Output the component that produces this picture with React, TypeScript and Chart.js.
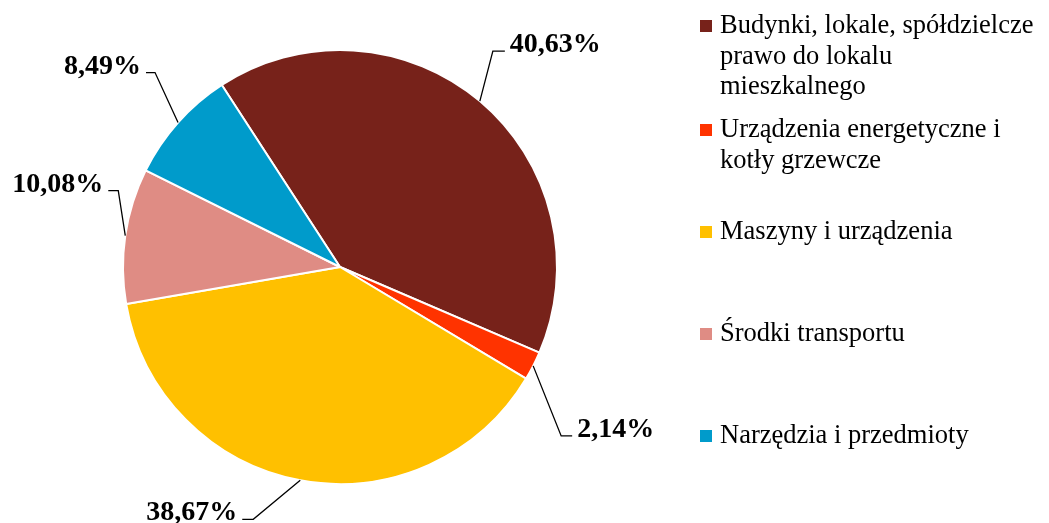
import React, { useEffect, useRef } from "react";
import { Chart, registerables } from "chart.js";
Chart.register(...registerables);

const categories: string[][] = [
  ["Budynki, lokale, spółdzielcze", "prawo do lokalu", "mieszkalnego"],
  ["Urządzenia energetyczne i", "kotły grzewcze"],
  ["Maszyny i urządzenia"],
  ["Środki transportu"],
  ["Narzędzia i przedmioty"],
];
const shares = [40.63, 2.14, 38.67, 10.08, 8.49];
const colors = ["#77221A", "#FF3300", "#FFC000", "#DF8C84", "#009BCB"];

// leader-line geometry relative to each slice's outer mid point: [elbowDx, elbowDy, endDx, endDy]
const leaderOffsets = [
  [13, -50, 25, -50],
  [28, 70, 39, 70],
  [-47, 39, -58, 39],
  [-7, -45, -17, -45],
  [-23, -50, -32, -50],
];
const legendBaselines = [33, 137, 239, 341, 443];
const legendLineGap = 30.5;

const fmt = (v: number) => v.toFixed(2).replace(".", ",") + "%";

const overlayPlugin = {
  id: "overlay",
  afterDatasetsDraw(chart: any) {
    const ctx = chart.ctx;
    const meta = chart.getDatasetMeta(0);
    ctx.save();
    meta.data.forEach((arc: any, i: number) => {
      const p = arc.getProps(["x", "y", "startAngle", "endAngle", "outerRadius"], true);
      const mid = (p.startAngle + p.endAngle) / 2;
      const ax = p.x + Math.cos(mid) * p.outerRadius;
      const ay = p.y + Math.sin(mid) * p.outerRadius;
      const o = leaderOffsets[i];
      ctx.beginPath();
      ctx.moveTo(ax, ay);
      ctx.lineTo(ax + o[0], ay + o[1]);
      ctx.lineTo(ax + o[2], ay + o[3]);
      ctx.strokeStyle = "#000";
      ctx.lineWidth = 1.3;
      ctx.stroke();
      const right = o[2] > 0;
      ctx.font = "bold 28px 'Liberation Serif'";
      ctx.fillStyle = "#000";
      ctx.textBaseline = "alphabetic";
      ctx.textAlign = right ? "left" : "right";
      ctx.fillText(fmt(shares[i]), ax + o[2] + (right ? 5 : -5), ay + o[3] + 1);
    });
    // legend
    ctx.font = "26.5px 'Liberation Serif'";
    ctx.textAlign = "left";
    categories.forEach((lines, i) => {
      const b = legendBaselines[i];
      ctx.fillStyle = colors[i];
      ctx.fillRect(700, b - 13, 12, 12);
      ctx.fillStyle = "#000";
      lines.forEach((t, j) => ctx.fillText(t, 720, b + j * legendLineGap));
    });
    ctx.restore();
  },
};

export default function App() {
  const ref = useRef<HTMLCanvasElement>(null);
  useEffect(() => {
    const chart = new Chart(ref.current!, {
      type: "pie",
      data: {
        labels: categories,
        datasets: [
          {
            data: shares,
            backgroundColor: colors,
            borderColor: "#ffffff",
            borderWidth: 2,
          },
        ],
      },
      options: {
        responsive: false,
        animation: false,
        rotation: -33,
        layout: { padding: { left: 122, right: 491, top: 49, bottom: 38 } },
        plugins: { legend: { display: false }, tooltip: { enabled: false } },
      },
      plugins: [overlayPlugin],
    });
    return () => chart.destroy();
  }, []);
  return (
    <div style={{ position: "absolute", left: 0, top: 0, width: 1049, height: 523, background: "#fff" }}>
      <canvas ref={ref} width={1049} height={523} />
    </div>
  );
}
